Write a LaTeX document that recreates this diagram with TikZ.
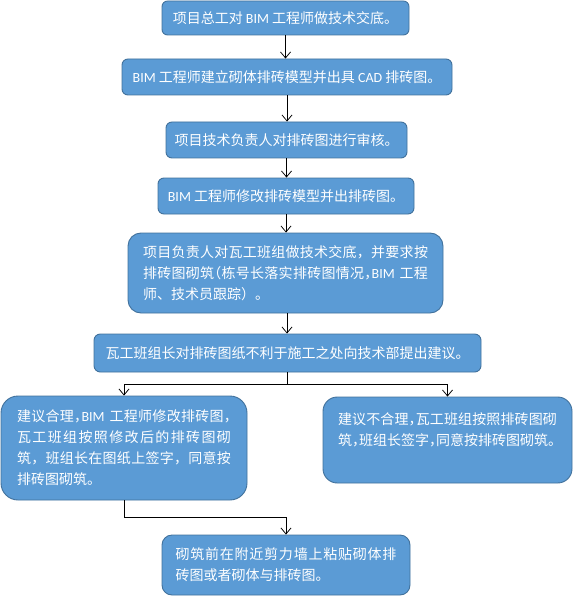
\documentclass[tikz,border=0pt]{standalone}
\usepackage{fontspec}
\setmainfont{Noto Sans CJK SC}
\newfontfamily\lat{Carlito}
\usetikzlibrary{arrows.meta}
\definecolor{boxfill}{HTML}{5B9BD5}
\definecolor{boxline}{HTML}{41719C}
% justified line: spread characters to the given width
\newcommand\jl[2]{\makebox[#1][s]{\jlfirst#2\relax}}
\def\jlfirst#1{{#1}\jlrest}
\def\jlrest#1{\ifx\relax#1\else\hskip 0pt plus 1fil minus 1pt{#1}\expandafter\jlrest\fi}
\newcommand\hc[1]{{\addfontfeature{RawFeature=+halt}#1}}
\tikzset{
  flowbox/.style={draw=boxline, fill=boxfill, line width=0.9pt, text=white,
    inner sep=0pt, font=\fontsize{14}{21}\selectfont},
  arr/.style={-{Straight Barb[length=6pt,width=10pt]}, line width=0.75pt, black},
  conn/.style={line width=0.75pt, black}
}
\begin{document}
\begin{tikzpicture}[x=1pt,y=-1pt]
\useasboundingbox (0,0) rectangle (573,596);

\node[flowbox, minimum width=247, minimum height=34, rounded corners=5.7] (b1) at (285.5,18)
  {项目总工对 {\lat BIM} 工程师做技术交底。};
\node[flowbox, minimum width=330, minimum height=36, rounded corners=6] (b2) at (287,77)
  {{\lat BIM} 工程师建立砌体排砖模型并出具 {\lat CAD} 排砖图。};
\node[flowbox, minimum width=241, minimum height=36, rounded corners=6] (b3) at (286.5,140)
  {项目技术负责人对排砖图进行审核。};
\node[flowbox, minimum width=256, minimum height=36, rounded corners=6] (b4) at (286,196)
  {{\lat BIM} 工程师修改排砖模型并出排砖图。};
\node[flowbox, minimum width=315, minimum height=80, rounded corners=13, text width=285, align=left] (b5) at (285.5,273)
  {\jl{285pt}{项目负责人对瓦工班组做技术交底，并要求按}\\
   \jl{285pt}{排砖图砌筑{\hc（}栋号长落实排砖图情况{\hc，}{\lat BIM\ }工程}\\
   师、技术员跟踪）。};
\node[flowbox, minimum width=387, minimum height=38, rounded corners=6.3] (b6) at (287.5,353)
  {瓦工班组长对排砖图纸不利于施工之处向技术部提出建议。};
\node[flowbox, minimum width=246, minimum height=104, rounded corners=17, text width=214, align=left] (b7) at (124,448)
  {\jl{214pt}{建议合理{\hc，}{\lat BIM\ }工程师修改排砖图{\hc，}}\\
   \jl{214pt}{瓦工班组按照修改后的排砖图砌}\\
   \jl{214pt}{筑，班组长在图纸上签字，同意按}\\
   排砖图砌筑。};
\node[flowbox, minimum width=249, minimum height=86, rounded corners=14.3, text width=219, align=left] (b8) at (447.5,440)
  {\jl{219pt}{建议不合理{\hc，}瓦工班组按照排砖图砌}\\
   筑\hc{，}班组长签字\hc{，}同意按排砖图砌筑。\\
   \mbox{}};
\node[flowbox, minimum width=248, minimum height=60, rounded corners=10, text width=221, align=left] (b9) at (286,565)
  {\jl{221pt}{砌筑前在附近剪力墙上粘贴砌体排}\\
   砖图或者砌体与排砖图。};

\path (b6.south) ++(0,12) coordinate (split);
\path (b9.north) ++(0,-17) coordinate (join);

\draw[arr] (b1.south) -- (b1.south |- b2.north);
\draw[arr] (b2.south) -- (b2.south |- b3.north);
\draw[arr] (b3.south) -- (b3.south |- b4.north);
\draw[arr] (b4.south) -- (b4.south |- b5.north);
\draw[arr] (b5.south) ++(1.5,0) coordinate (b5s) -- (b5s |- b6.north);
\draw[conn] (b6.south) -- (split);
\draw[arr] (split) -| (b7.north);
\draw[arr] (split) -| (b8.north);
\draw[arr] (b7.south) |- (join) -- (b9.north);
\end{tikzpicture}
\end{document}
